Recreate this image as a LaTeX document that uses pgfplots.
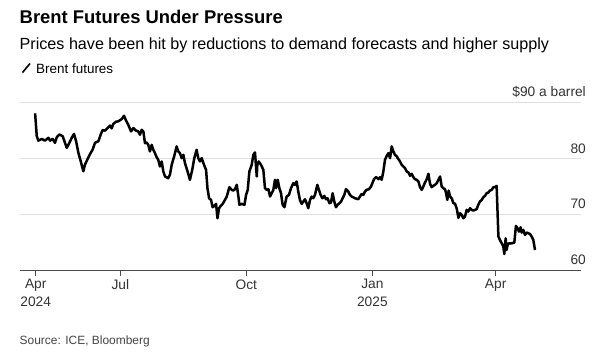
\documentclass[border=0pt]{standalone}
\usepackage{fontspec}
\setmainfont{Liberation Sans}
\usepackage{pgfplots}
\usepackage{pgfplotstable}
\pgfplotsset{compat=1.18}
\definecolor{gridc}{HTML}{E0E0E0}
\definecolor{axisc}{HTML}{4A4A4A}
\definecolor{labc}{HTML}{333333}
\definecolor{srcc}{HTML}{444444}
\pgfplotstableread{
day val
28.8 88.1
30.0 84.0
31.2 83.2
33.6 83.5
36.0 83.2
38.5 83.7
39.7 83.2
41.6 83.5
43.3 82.8
44.6 83.8
46.5 84.3
48.9 84.0
50.2 83.1
51.9 81.9
53.8 82.8
55.5 83.7
57.2 84.4
58.7 83.1
60.4 81.0
62.1 79.5
64.0 77.7
65.2 78.9
66.9 79.8
68.9 80.8
70.8 81.6
72.5 82.8
75.0 83.1
76.7 84.3
78.1 85.1
79.8 85.0
81.5 85.4
83.5 85.9
84.7 85.4
85.9 86.2
87.9 86.6
89.5 86.65
92.0 87.07
93.7 87.66
95.1 86.83
96.8 86.05
98.8 84.85
100.5 85.45
102.2 85.03
104.1 84.85
105.3 84.25
106.6 85.15
107.8 84.85
109.0 82.75
110.2 82.87
111.4 82.44
112.6 81.26
113.9 82.44
115.1 81.56
116.3 80.96
117.5 80.24
118.7 79.76
119.9 78.56
121.2 79.46
122.4 77.66
123.6 76.77
126.0 76.47
127.2 77.07
128.5 78.86
130.4 80.48
132.1 82.16
133.3 81.26
134.5 80.96
135.8 80.06
137.0 80.66
138.2 79.16
140.1 77.66
141.8 76.17
143.5 77.96
145.0 80.06
146.7 81.56
147.9 80.06
149.1 79.46
150.4 80.06
152.1 78.86
153.6 77.96
154.6 74.67
155.8 72.87
157.2 72.57
158.4 71.26
159.7 71.50
160.9 71.86
161.9 69.28
163.1 71.08
164.3 71.50
165.7 71.86
167.4 72.57
168.7 73.17
170.6 74.85
172.3 74.37
173.5 74.25
174.7 74.49
176.0 75.27
177.2 73.17
177.9 71.68
179.6 71.86
181.6 71.68
182.8 73.47
184.0 74.37
185.2 77.66
186.9 78.86
188.1 80.66
189.3 81.08
190.6 76.77
191.0 78.86
192.0 79.46
193.7 78.86
195.4 77.96
196.6 74.67
197.9 74.37
199.1 74.49
200.3 73.17
201.5 73.77
202.7 74.37
203.9 76.17
204.7 74.67
205.9 76.17
207.1 74.67
208.3 73.77
209.5 71.68
210.8 71.26
212.4 73.17
214.1 73.47
215.6 74.67
217.3 75.57
218.5 75.27
219.7 75.87
220.9 74.07
222.1 72.57
223.4 71.86
224.6 72.28
225.8 72.69
227.0 71.98
228.2 71.08
229.5 72.57
230.7 73.17
231.9 72.87
233.1 73.47
234.8 75.27
236.0 74.37
237.2 73.47
238.5 72.87
239.9 73.29
241.1 72.69
242.3 72.87
243.6 71.98
244.8 72.10
246.0 73.77
247.2 72.28
248.4 71.26
249.6 71.68
250.9 71.98
252.1 72.28
253.3 72.87
254.5 73.47
255.7 74.49
257.4 74.07
258.6 73.47
259.9 73.17
262.3 72.87
264.7 72.69
265.9 73.17
267.2 73.65
268.4 73.47
269.6 74.07
270.8 74.37
272.5 74.49
274.0 74.97
274.5 75.27
276.2 76.29
277.7 76.65
279.4 76.29
280.6 76.65
281.8 76.17
283.0 77.66
284.2 79.76
285.5 80.48
286.7 80.96
287.9 80.06
289.1 82.16
290.3 81.26
291.5 80.66
292.8 80.36
294.0 79.88
295.2 79.46
296.4 78.86
297.6 78.56
298.8 78.26
300.1 77.66
301.3 77.49
302.5 76.89
303.7 77.25
304.9 76.65
306.1 76.29
307.4 76.17
308.6 75.87
309.8 74.85
311.0 74.37
312.2 74.97
313.4 75.69
314.7 76.29
315.9 77.25
317.1 75.45
318.3 74.85
319.5 75.09
320.7 75.27
322.0 75.57
323.2 76.17
324.4 76.77
325.6 74.97
326.8 74.67
328.0 74.49
328.8 73.77
329.7 72.57
330.7 74.25
331.7 73.17
332.9 72.87
334.1 71.98
335.3 71.9
336.6 71.0
337.8 69.35
339.0 70.18
340.2 69.88
341.4 69.28
342.6 69.58
343.8 70.78
345.0 70.48
346.3 71.08
347.5 70.78
348.7 70.66
349.9 70.78
351.1 70.90
352.3 71.68
353.5 72.28
354.8 72.57
356.0 73.05
357.2 73.29
358.4 73.77
359.6 73.89
360.8 74.25
362.1 74.37
363.3 74.85
364.5 74.85
365.7 75.09
367.0 66.0
368.1 65.39
369.4 64.79
370.6 64.19
371.3 62.87
372.3 65.69
373.0 63.59
373.7 64.49
374.7 64.79
376.7 64.79
378.6 64.91
379.8 67.90
381.0 67.49
382.0 66.89
383.2 67.66
384.0 66.71
385.2 67.19
386.4 66.29
387.6 66.71
388.8 66.59
390.0 66.47
391.3 65.99
392.5 65.39
393.7 63.59
}\brent
\begin{document}
\begin{tikzpicture}[x=1bp,y=1bp]
\path[use as bounding box] (0,0) rectangle (610,357);
\node[anchor=base west, inner sep=0, font=\fontsize{18.5}{20}\selectfont\bfseries] at (19.5,333.5) {Brent Futures Under Pressure};
\node[anchor=base west, inner sep=0, font=\fontsize{16.2}{18}\selectfont] at (19.5,307.5) {Prices have been hit by reductions to demand forecasts and higher supply};
\draw[line width=1.6bp] (22.5,284.5) -- (30,293.5);
\node[anchor=base west, inner sep=0, font=\fontsize{13.5}{15}\selectfont] at (36,284) {Brent futures};
\node[anchor=base west, inner sep=0, font=\fontsize{12}{14}\selectfont, text=srcc] at (19.5,12.5) {Source: ICE, Bloomberg};
\begin{axis}[
  at={(19.5bp,87bp)}, anchor=south west,
  scale only axis, width=561.5bp, height=167.3bp,
  xmin=17.4, xmax=427.3, ymin=60, ymax=90,
  axis x line*=bottom, axis y line*=right,
  y axis line style={draw=none},
  x axis line style={-, draw=axisc, line width=1bp},
  ymajorgrids, grid style={draw=gridc, line width=1bp},
  ytick={60,70,80,90},
  yticklabels={60,70,80,{\$90 a barrel}},
  ytick style={draw=none},
  yticklabel style={anchor=south east, inner sep=0pt, xshift=-1bp, yshift=5bp,
    font=\fontsize{13.8}{16}\selectfont, text=labc},
  xtick={29.25,91,183,275,365},
  xticklabels={{Apr\\2024},Jul,Oct,{Jan\\2025},Apr},
  xtick style={draw=axisc, line width=1bp},
  tick align=outside, major tick length=6bp,
  xticklabel style={align=center, font=\fontsize{13.8}{18}\selectfont, text=labc},
  /pgf/number format/assume math mode=true,
]
\addplot[black, line width=2.5bp, line join=round] table[x=day, y=val] {\brent};
\end{axis}
\end{tikzpicture}
\end{document}
